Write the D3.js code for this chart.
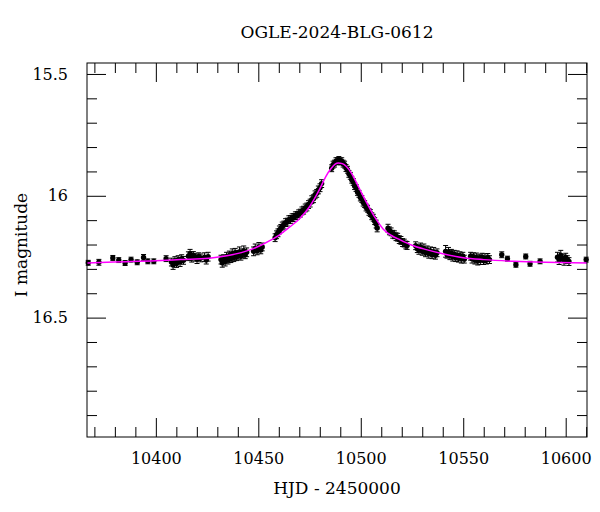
<!DOCTYPE html>
<html>
<head>
<meta charset="utf-8">
<script src="https://cdn.jsdelivr.net/npm/d3@7"></script>
<style>
  html, body { margin: 0; padding: 0; background: #fff; }
  svg { display: block; }
  text { font-family: "DejaVu Serif", serif; fill: #000; }
</style>
</head>
<body>
<svg id="chart" width="600" height="512"></svg>
<script>
// ---------------- data ----------------
const title = "OGLE-2024-BLG-0612";
const xLabel = "HJD - 2450000";
const yLabel = "I magnitude";

const xMajorTicks = [10400, 10450, 10500, 10550, 10600];
const xMinorTicks = [10370, 10380, 10390, 10410, 10420, 10430, 10440, 10460, 10470, 10480, 10490,
                     10510, 10520, 10530, 10540, 10560, 10570, 10580, 10590, 10610];
const yMajorTicks = [15.5, 16, 16.5];
const yTickLabels = ["15.5", "16", "16.5"];
const yMinorTicks = [15.6, 15.7, 15.8, 15.9, 16.1, 16.2, 16.3, 16.4, 16.6, 16.7, 16.8, 16.9];

// observations: HJD-2450000, I mag, error
const hjd = [
  10367.0, 10372.2, 10379.0, 10381.9, 10385.0, 10387.9, 10390.9, 10394.0, 10396.1, 10399.0, 10405.0,
  10407.6, 10408.4, 10409.3, 10410.1, 10410.9, 10411.8, 10412.6, 10413.5,
  10415.9, 10416.7, 10417.5, 10418.3, 10419.2, 10420.1, 10421.0, 10421.9,
  10423.8, 10424.6, 10425.5,
  10431.8, 10432.4, 10433.1, 10433.8, 10434.5, 10435.2, 10435.9, 10436.6, 10437.3, 10438.0,
  10438.7, 10439.4, 10440.1, 10440.8, 10441.5, 10442.2, 10442.9, 10443.6, 10444.3,
  10447.7, 10448.5, 10449.4, 10450.3, 10451.2, 10451.9,
  10458.2, 10458.9, 10459.6, 10460.3, 10461.0, 10461.7, 10462.5, 10463.3, 10464.1, 10464.9,
  10465.7, 10466.5, 10467.3, 10468.1, 10468.9, 10469.7, 10470.5, 10471.3, 10472.1, 10472.9,
  10473.7, 10474.5, 10475.3, 10476.1, 10476.9, 10477.7, 10478.5, 10479.3, 10480.1, 10480.9,
  10485.8, 10486.5, 10487.2, 10487.9, 10488.6, 10489.3, 10490.0, 10490.7, 10491.4, 10492.1, 10492.8,
  10493.5, 10494.2, 10494.9, 10495.6, 10496.3, 10497.0, 10497.7, 10498.4, 10499.1, 10499.8,
  10500.5, 10501.2, 10501.9, 10502.6, 10503.3, 10504.0, 10504.7, 10505.4, 10506.1, 10506.8,
  10507.5, 10508.0,
  10513.3, 10514.0, 10514.8, 10515.6, 10516.4, 10517.2, 10518.0, 10518.8, 10519.6, 10520.4,
  10521.2, 10522.0, 10522.6,
  10526.8, 10527.6, 10528.4, 10529.2, 10530.0, 10530.8, 10531.6, 10532.4, 10533.2, 10534.0,
  10534.8, 10535.6, 10536.4, 10537.2,
  10541.4, 10542.1, 10542.8, 10543.5, 10544.2, 10544.9, 10545.6, 10546.3, 10547.0, 10547.7,
  10548.4, 10549.1, 10549.8, 10550.5,
  10553.6, 10554.3, 10555.0, 10555.7, 10556.4, 10557.1, 10557.8, 10558.5, 10559.2, 10559.9,
  10560.6, 10561.3, 10562.0, 10562.8,
  10568.8, 10571.6, 10575.7, 10580.5, 10582.6, 10587.5,
  10596.0, 10596.8, 10597.6, 10598.4, 10599.2, 10600.0, 10600.8, 10601.6,
  10610.0
];
const mag = [
  16.275, 16.273, 16.255, 16.264, 16.276, 16.262, 16.273, 16.253, 16.269, 16.269, 16.258,
  16.272, 16.284, 16.266, 16.278, 16.262, 16.272, 16.258, 16.265,
  16.248, 16.238, 16.256, 16.245, 16.252, 16.260, 16.250, 16.255,
  16.252, 16.264, 16.250,
  16.262, 16.275, 16.258, 16.270, 16.250, 16.264, 16.245, 16.258, 16.238, 16.254,
  16.234, 16.250, 16.242, 16.230, 16.248, 16.236, 16.226, 16.242, 16.232,
  16.228, 16.216, 16.226, 16.210, 16.222, 16.210,
  16.172, 16.160, 16.152, 16.140, 16.134, 16.124, 16.120, 16.110, 16.108, 16.098,
  16.097, 16.090, 16.089, 16.082, 16.081, 16.074, 16.071, 16.062, 16.059, 16.050,
  16.046, 16.036, 16.030, 16.016, 16.012, 15.996, 15.990, 15.976, 15.967, 15.950,
  15.887, 15.872, 15.868, 15.858, 15.858, 15.853, 15.859, 15.858, 15.868, 15.872, 15.886,
  15.893, 15.910, 15.918, 15.934, 15.943, 15.960, 15.968, 15.984, 15.992, 16.007,
  16.013, 16.028, 16.034, 16.048, 16.053, 16.066, 16.071, 16.084, 16.090, 16.104,
  16.116, 16.132,
  16.133, 16.144, 16.148, 16.158, 16.160, 16.168, 16.170, 16.180, 16.183, 16.192,
  16.194, 16.202, 16.204,
  16.205, 16.217, 16.222, 16.210, 16.228, 16.216, 16.234, 16.222, 16.238, 16.226,
  16.242, 16.230, 16.244, 16.234,
  16.228, 16.240, 16.230, 16.246, 16.236, 16.250, 16.240, 16.254, 16.244, 16.256,
  16.246, 16.258, 16.248, 16.260,
  16.248, 16.258, 16.250, 16.264, 16.253, 16.268, 16.256, 16.264, 16.252, 16.266,
  16.256, 16.264, 16.253, 16.262,
  16.242, 16.258, 16.283, 16.249, 16.279, 16.269,
  16.252, 16.264, 16.244, 16.258, 16.267, 16.252, 16.262, 16.270,
  16.262
];
const err = [
  0.010, 0.012, 0.010, 0.010, 0.010, 0.010, 0.010, 0.012, 0.010, 0.010, 0.012,
  0.016, 0.018, 0.016, 0.016, 0.016, 0.018, 0.016, 0.016,
  0.018, 0.018, 0.016, 0.016, 0.016, 0.018, 0.016, 0.016,
  0.018, 0.016, 0.018,
  0.018, 0.018, 0.016, 0.018, 0.018, 0.016, 0.018, 0.016, 0.020, 0.016,
  0.018, 0.016, 0.018, 0.020, 0.016, 0.018, 0.020, 0.016, 0.018,
  0.018, 0.018, 0.016, 0.018, 0.016, 0.016,
  0.016, 0.016, 0.016, 0.016, 0.016, 0.016, 0.016, 0.016, 0.016, 0.016,
  0.016, 0.016, 0.016, 0.016, 0.016, 0.016, 0.016, 0.016, 0.016, 0.016,
  0.016, 0.016, 0.016, 0.016, 0.016, 0.016, 0.016, 0.016, 0.016, 0.016,
  0.014, 0.014, 0.014, 0.014, 0.014, 0.014, 0.014, 0.014, 0.014, 0.014, 0.014,
  0.014, 0.014, 0.014, 0.014, 0.014, 0.014, 0.014, 0.014, 0.014, 0.014,
  0.014, 0.014, 0.014, 0.014, 0.014, 0.014, 0.014, 0.014, 0.014, 0.014,
  0.016, 0.016,
  0.016, 0.016, 0.016, 0.016, 0.016, 0.016, 0.016, 0.016, 0.016, 0.016,
  0.016, 0.016, 0.016,
  0.016, 0.016, 0.018, 0.016, 0.016, 0.018, 0.016, 0.016, 0.018, 0.016,
  0.016, 0.018, 0.016, 0.016,
  0.024, 0.016, 0.018, 0.016, 0.016, 0.018, 0.016, 0.016, 0.018, 0.016,
  0.016, 0.018, 0.016, 0.016,
  0.016, 0.018, 0.016, 0.016, 0.018, 0.016, 0.016, 0.018, 0.016, 0.016,
  0.018, 0.016, 0.016, 0.016,
  0.012, 0.010, 0.010, 0.010, 0.010, 0.010,
  0.020, 0.018, 0.020, 0.016, 0.018, 0.016, 0.016, 0.016,
  0.010
];

// model curve (magenta)
const modelT = [10366.4, 10380, 10400, 10412, 10426, 10436, 10446, 10452, 10459, 10465, 10470,
                10475, 10480, 10483, 10485.5, 10487.5, 10489, 10491, 10493, 10495.5, 10498,
                10500.5, 10503, 10507, 10511, 10515, 10519, 10525, 10532, 10540, 10550, 10560,
                10575, 10590, 10610.4];
const modelM = [16.276, 16.272, 16.267, 16.262, 16.256, 16.244, 16.222, 16.200, 16.168, 16.130, 16.095,
                16.045, 15.972, 15.920, 15.888, 15.870, 15.865, 15.868, 15.880, 15.908, 15.948,
                15.990, 16.030, 16.090, 16.137, 16.163, 16.180, 16.203, 16.221, 16.238, 16.254, 16.262,
                16.269, 16.273, 16.276];

// ---------------- drawing ----------------
const svg = d3.select("#chart");
const L = 87, R = 587, T = 63, B = 437;
const x = d3.scaleLinear().domain([10366.4, 10610.4]).range([L, R]);
const y = d3.scaleLinear().domain([15.455, 16.99]).range([T, B]);

const FS = 16;

function styleAxis(g) {
  g.select(".domain").remove();
  g.selectAll(".tick line").attr("stroke", "#000").attr("stroke-width", 1);
  g.selectAll(".tick text").attr("font-family", "DejaVu Serif, serif").attr("font-size", FS).attr("fill", "#000");
}
svg.append("g").attr("transform", `translate(0,${B})`)
  .call(d3.axisBottom(x).tickValues(xMajorTicks).tickSize(-19).tickPadding(15.6).tickFormat(d3.format("d")))
  .call(styleAxis);
svg.append("g").attr("transform", `translate(0,${B})`)
  .call(d3.axisBottom(x).tickValues(xMinorTicks).tickSize(-10).tickFormat(""))
  .call(styleAxis);
svg.append("g").attr("transform", `translate(0,${T})`)
  .call(d3.axisTop(x).tickValues(xMajorTicks).tickSize(-19).tickFormat(""))
  .call(styleAxis);
svg.append("g").attr("transform", `translate(0,${T})`)
  .call(d3.axisTop(x).tickValues(xMinorTicks).tickSize(-10).tickFormat(""))
  .call(styleAxis);
svg.append("g").attr("transform", `translate(${L},0)`)
  .call(d3.axisLeft(y).tickValues(yMajorTicks).tickSize(-19).tickPadding(19)
        .tickFormat((d, i) => yTickLabels[i]))
  .call(styleAxis);
svg.append("g").attr("transform", `translate(${L},0)`)
  .call(d3.axisLeft(y).tickValues(yMinorTicks).tickSize(-10).tickFormat(""))
  .call(styleAxis);
svg.append("g").attr("transform", `translate(${R},0)`)
  .call(d3.axisRight(y).tickValues(yMajorTicks).tickSize(-19).tickFormat(""))
  .call(styleAxis);
svg.append("g").attr("transform", `translate(${R},0)`)
  .call(d3.axisRight(y).tickValues(yMinorTicks).tickSize(-10).tickFormat(""))
  .call(styleAxis);

// data points with error bars
const pts = hjd.map((t, i) => ({ t, m: mag[i], e: err[i] }));
const gp = svg.append("g");
gp.selectAll("line.eb").data(pts).join("line").attr("class", "eb")
  .attr("x1", d => x(d.t)).attr("x2", d => x(d.t))
  .attr("y1", d => y(d.m - d.e)).attr("y2", d => y(d.m + d.e))
  .attr("stroke", "#000").attr("stroke-width", 1);
gp.selectAll("line.capt").data(pts).join("line").attr("class", "capt")
  .attr("x1", d => x(d.t) - 2.5).attr("x2", d => x(d.t) + 2.5)
  .attr("y1", d => y(d.m - d.e)).attr("y2", d => y(d.m - d.e))
  .attr("stroke", "#000").attr("stroke-width", 1);
gp.selectAll("line.capb").data(pts).join("line").attr("class", "capb")
  .attr("x1", d => x(d.t) - 2.5).attr("x2", d => x(d.t) + 2.5)
  .attr("y1", d => y(d.m + d.e)).attr("y2", d => y(d.m + d.e))
  .attr("stroke", "#000").attr("stroke-width", 1);
gp.selectAll("circle").data(pts).join("circle")
  .attr("cx", d => x(d.t)).attr("cy", d => y(d.m)).attr("r", 2.7).attr("fill", "#000");

// model curve
const model = modelT.map((t, i) => ({ t, m: modelM[i] }));
svg.append("path").datum(model)
  .attr("d", d3.line().x(d => x(d.t)).y(d => y(d.m)).curve(d3.curveMonotoneX))
  .attr("fill", "none").attr("stroke", "#ff00ff").attr("stroke-width", 1.5);

// frame
svg.append("rect").attr("x", L).attr("y", T).attr("width", R - L).attr("height", B - T)
  .attr("fill", "none").attr("stroke", "#000").attr("stroke-width", 1);

// texts
svg.append("text").attr("x", (L + R) / 2).attr("y", 38).attr("text-anchor", "middle")
  .attr("font-size", 17).text(title);
svg.append("text").attr("x", (L + R) / 2).attr("y", 494).attr("text-anchor", "middle")
  .attr("font-size", 17).text(xLabel);
svg.append("text").attr("transform", `translate(27,245) rotate(-90)`).attr("text-anchor", "middle")
  .attr("font-size", 17).text(yLabel);
</script>
</body>
</html>
